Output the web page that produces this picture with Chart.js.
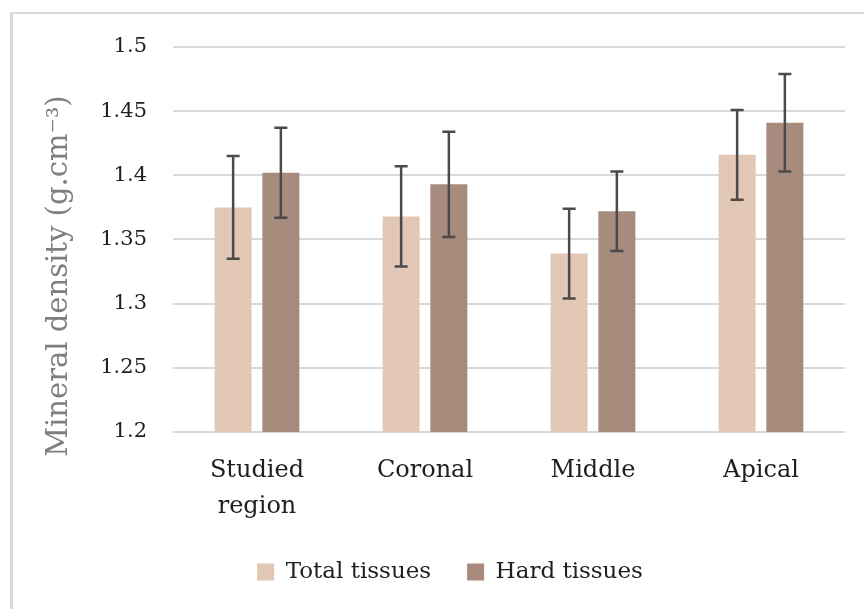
<!DOCTYPE html>
<html><head><meta charset="utf-8">
<script src="https://cdn.jsdelivr.net/npm/chart.js@4.4.0/dist/chart.umd.min.js"></script>
<style>
html,body{margin:0;padding:0;background:#fff;overflow:hidden;width:864px;height:609px;}
#frame{position:absolute;left:10px;top:12px;width:900px;height:700px;border-top:2px solid #d9d9d9;border-left:3px solid #d9d9d9;}
#c{position:absolute;left:0;top:0;}
</style></head><body>
<div id="frame"></div>
<canvas id="c" width="900" height="609" style="width:900px;height:609px"></canvas>
<script>
const categories = [['Studied','region'], 'Coronal', 'Middle', 'Apical'];
const seriesNames = ['Total tissues', 'Hard tissues'];
const totalTissues = [1.375, 1.368, 1.339, 1.416];
const hardTissues = [1.402, 1.393, 1.372, 1.441];
const totalErr = [0.040, 0.039, 0.035, 0.035];
const hardErr = [0.035, 0.041, 0.031, 0.038];
const yTickLabels = ['1.2', '1.25', '1.3', '1.35', '1.4', '1.45', '1.5'];
const yTitle = 'Mineral density (g.cm\u207B\u00B3)';

const FONT = "'DejaVu Serif', serif";

const errorBars = {
  id: 'errorBars',
  afterDatasetsDraw(chart) {
    const ctx = chart.ctx;
    const y = chart.scales.y;
    ctx.save();
    ctx.strokeStyle = '#4a4a4a';
    ctx.lineWidth = 2.5;
    chart.data.datasets.forEach((ds, i) => {
      const meta = chart.getDatasetMeta(i);
      meta.data.forEach((bar, j) => {
        const v = ds.data[j], e = ds.errors[j];
        const yt = y.getPixelForValue(v + e), yb = y.getPixelForValue(v - e);
        const x = bar.x, cap = 6.5;
        ctx.beginPath();
        ctx.moveTo(x, yt); ctx.lineTo(x, yb);
        ctx.moveTo(x - cap, yt); ctx.lineTo(x + cap, yt);
        ctx.moveTo(x - cap, yb); ctx.lineTo(x + cap, yb);
        ctx.stroke();
      });
    });
    ctx.restore();
  }
};

const yTitlePlugin = {
  id: 'yTitlePlugin',
  afterDraw(chart) {
    const ctx = chart.ctx;
    ctx.save();
    ctx.translate(59, 276);
    ctx.rotate(-Math.PI / 2);
    ctx.font = "29px " + FONT;
    ctx.fillStyle = '#7f7f7f';
    ctx.textAlign = 'center';
    ctx.textBaseline = 'middle';
    ctx.fillText(yTitle, 0, 0);
    ctx.restore();
  }
};

new Chart(document.getElementById('c'), {
  type: 'bar',
  data: {
    labels: categories,
    datasets: [
      { label: seriesNames[0], data: totalTissues, errors: totalErr, backgroundColor: '#e2c6b6',
        categoryPercentage: 0.568, barPercentage: 0.776 },
      { label: seriesNames[1], data: hardTissues, errors: hardErr, backgroundColor: '#a78b7c',
        categoryPercentage: 0.568, barPercentage: 0.776 }
    ]
  },
  options: {
    responsive: false,
    animation: false,
    devicePixelRatio: 1,
    layout: { padding: { top: 47, right: 0, bottom: 15.5, left: 0 } },
    plugins: {
      legend: {
        position: 'bottom',
        labels: { boxWidth: 17, boxHeight: 17, padding: 36, color: '#1f1f1f',
                  font: { family: FONT, size: 23 } }
      },
      tooltip: { enabled: false }
    },
    scales: {
      x: {
        grid: { display: false, drawTicks: false },
        border: { display: false },
        ticks: { color: '#1f1f1f', padding: 21, font: { family: FONT, size: 24, lineHeight: 1.5 } },
        afterFit(s) { s.height = 92.5; }
      },
      y: {
        min: 1.2, max: 1.5,
        grid: { color: '#d9d9d9', lineWidth: 2, drawTicks: false },
        border: { display: false },
        ticks: { stepSize: 0.05, padding: 26, color: '#1f1f1f',
                 font: { family: FONT, size: 21 },
                 callback: (v, i) => yTickLabels[i] },
        afterFit(s) { s.width = 173; }
      },
      yRight: {
        position: 'right',
        min: 1.2, max: 1.5,
        grid: { display: false, drawTicks: false },
        border: { display: false },
        ticks: { display: false },
        afterFit(s) { s.width = 55; }
      }
    }
  },
  plugins: [errorBars, yTitlePlugin]
});
</script>
</body></html>
